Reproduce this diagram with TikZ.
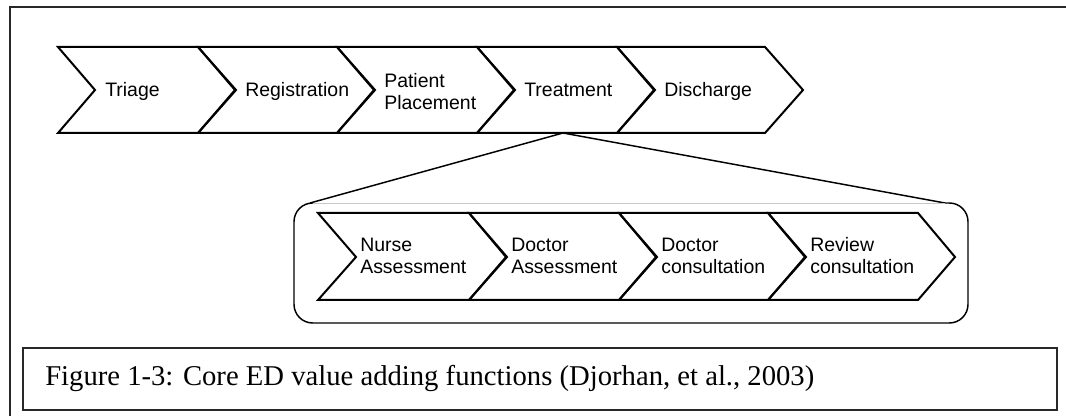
\documentclass[tikz,border=0pt]{standalone}
\usepackage{fontspec}
\setmainfont{Liberation Serif}
\newfontfamily\arialfont{Liberation Sans}
\usetikzlibrary{positioning, calc}
\definecolor{framegray}{RGB}{40, 40, 40}
\definecolor{edgegray}{RGB}{200, 200, 200}

\begin{document}
\begin{tikzpicture}[x=0.75pt, y=-0.75pt,
  chev/.style={draw=black, line width=1.5pt, line join=miter},
  lbl/.style={align=left, inner sep=0pt,
    font=\arialfont\fontsize{14.6}{16.5}\selectfont},
  link/.style={draw=black, line width=1.1pt}]
  \useasboundingbox (0,0) rectangle (1066,416);
  % page frame, cut off at right and bottom
  \draw[framegray, line width=1.5pt] (1066,7) -- (10,7) -- (10,416);
  % main process
  \foreach \a/\b/\an/\yy/\txt [count=\i] in {58/198/base west/97/Triage,
      198/337/base west/97/Registration, 337/477/west/92/{Patient\\Placement},
      477/617/base west/97/Treatment, 617/765/base west/97/Discharge} {
    \draw[chev] (\a,47) -- (\b,47) -- (\b+38,90) -- (\b,133) -- (\a,133) -- (\a+37,90) -- cycle;
    \node[lbl, anchor=\an] (top\i) at (\a+47,\yy) {\txt};
  }
  % zoom into treatment
  \coordinate (br) at (563,133);
  \coordinate (cl) at (310,203);
  \coordinate (cr) at (945,203);
  \draw[link] (cl) -- (br) -- (cr);
  \draw[edgegray, line width=0.6pt] (cl) -- (cr);
  \draw[link, rounded corners=14] (cl) -- (294,203) -- (294,323) -- (968,323) -- (968,203) -- (cr);
  \foreach \a/\b/\txt [count=\i] in {318/469/{Nurse\\Assessment}, 469/619/{Doctor\\Assessment},
      619/768/{Doctor\\consultation}, 768/918/{Review\\consultation}} {
    \draw[chev] (\a,213) -- (\b,213) -- (\b+37,257) -- (\b,300) -- (\a,300) -- (\a+38,257) -- cycle;
    \node[lbl, anchor=west] (sub\i) at (\a+42,256) {\txt};
  }
  % caption
  \draw[framegray, line width=1.4pt] (23,348) rectangle (1057,410);
  \node[anchor=base west, inner sep=0pt, font=\fontsize{21.5}{24}\selectfont] (cap) at (45,385)
    {Figure 1-3: Core ED value adding functions (Djorhan, et al., 2003)};
\end{tikzpicture}
\end{document}
